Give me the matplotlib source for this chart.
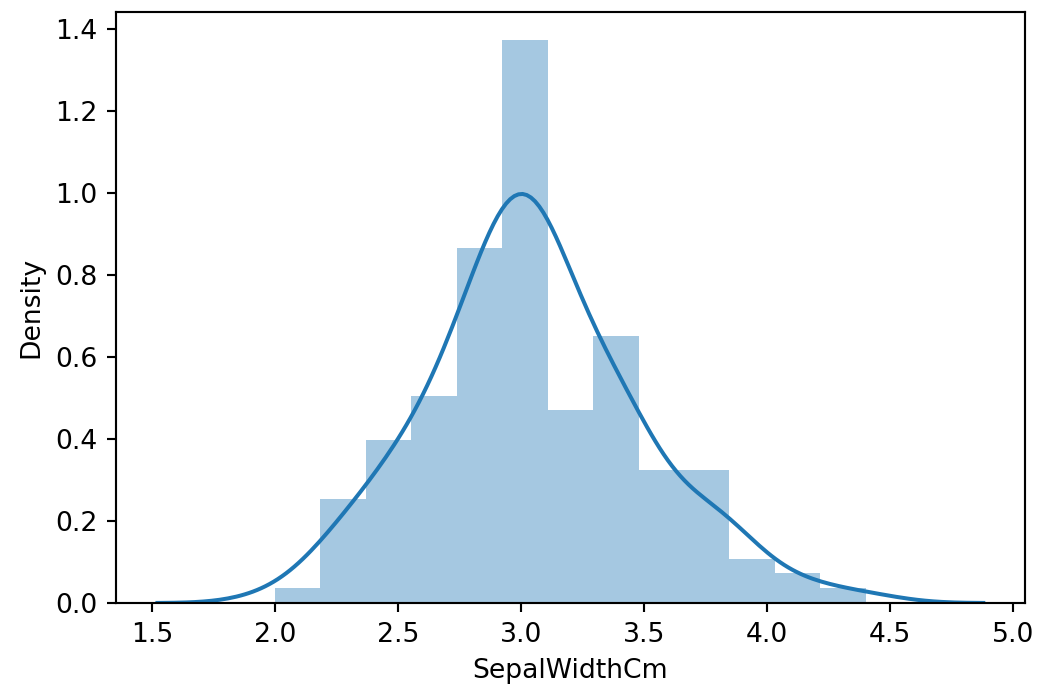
import numpy as np
import matplotlib
matplotlib.use("Agg")
import matplotlib.pyplot as plt

# SepalWidthCm values and how often each occurs (150 rows)
sepal_width = [2.0, 2.2, 2.3, 2.4, 2.5, 2.6, 2.7, 2.8, 2.9, 3.0, 3.1, 3.2,
               3.3, 3.4, 3.5, 3.6, 3.7, 3.8, 3.9, 4.0, 4.1, 4.2, 4.4]
counts = [1, 3, 4, 3, 8, 5, 9, 14, 10, 26, 12, 13,
          6, 12, 6, 3, 3, 6, 2, 1, 1, 1, 1]
n_bins = 13

x = np.repeat(sepal_width, counts)

# gaussian kde, scott bandwidth, cut=3, like seaborn's distplot
bw = x.std(ddof=1) * len(x) ** (-1 / 5)
grid = np.linspace(x.min() - 3 * bw, x.max() + 3 * bw, 200)
dens = np.exp(-0.5 * ((grid[:, None] - x[None, :]) / bw) ** 2).sum(axis=1)
dens /= len(x) * bw * np.sqrt(2 * np.pi)

dpi = 192
fig = plt.figure(figsize=(1037 / dpi, 692 / dpi), dpi=dpi)
ax = fig.add_axes([0.112, 0.1286, 0.876, 0.854])

ax.hist(x, bins=n_bins, density=True, color="C0", alpha=0.4)
ax.plot(grid, dens, color="C0", lw=1.5)

ax.set_xlabel("SepalWidthCm")
ax.set_ylabel("Density")

fig.savefig("out.png", dpi=dpi)
